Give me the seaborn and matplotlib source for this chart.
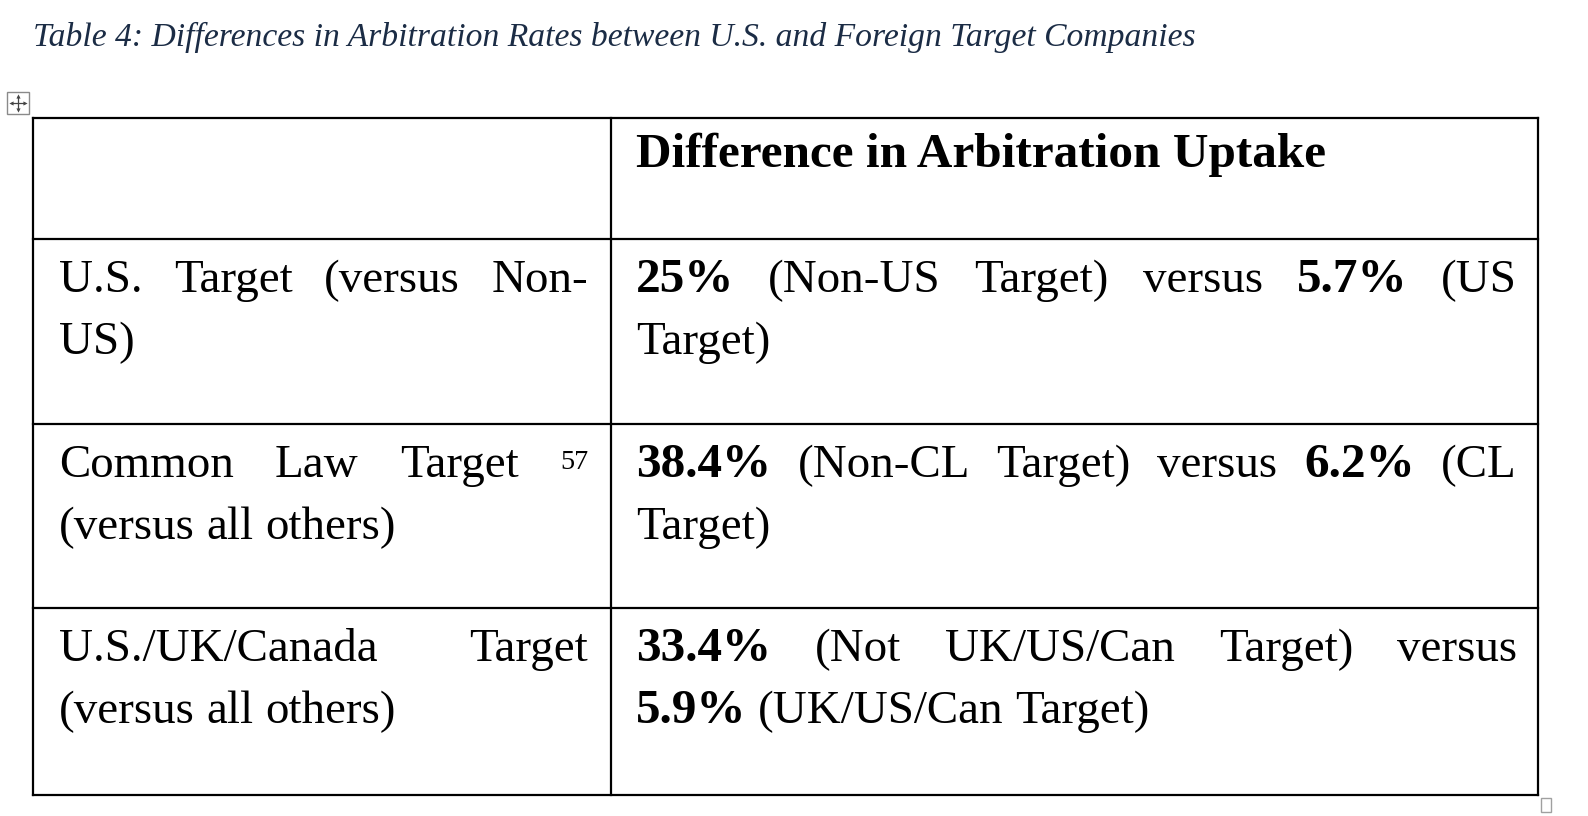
import matplotlib
matplotlib.use("Agg")
import matplotlib.pyplot as plt
import seaborn as sns

sns.set_theme(style="white")
plt.rcParams['font.family'] = ['Liberation Serif', 'DejaVu Serif']
plt.rcParams['text.color'] = 'black'

title = "Table 4: Differences in Arbitration Rates between U.S. and Foreign Target Companies"
header = "Difference in Arbitration Uptake"

# each cell: list of lines, each line a list of (word, bold) pairs; '^' marks a footnote
row_labels = [
    [[("U.S.", 0), ("Target", 0), ("(versus", 0), ("Non-", 0)], [("US)", 0)]],
    [[("Common", 0), ("Law", 0), ("Target", 0), ("^57", 0)], [("(versus", 0), ("all", 0), ("others)", 0)]],
    [[("U.S./UK/Canada", 0), ("Target", 0)], [("(versus", 0), ("all", 0), ("others)", 0)]],
]
row_values = [
    [[("25%", 1), ("(Non-US", 0), ("Target)", 0), ("versus", 0), ("5.7%", 1), ("(US", 0)], [("Target)", 0)]],
    [[("38.4%", 1), ("(Non-CL", 0), ("Target)", 0), ("versus", 0), ("6.2%", 1), ("(CL", 0)], [("Target)", 0)]],
    [[("33.4%", 1), ("(Not", 0), ("UK/US/Can", 0), ("Target)", 0), ("versus", 0)],
     [("5.9%", 1), ("(UK/US/Can", 0), ("Target)", 0)]],
]

# layout in pixels
W, H = 1588, 816
col_x = [33, 611, 1538]
row_y = [118, 239, 424, 608, 795]
pad_l, pad_r = 25, 21
fs = 33.8
fs_bold = 35.5
line_gap = 62
first_base = 53

fig = plt.figure(figsize=(W / 100, H / 100), dpi=100)
ax = fig.add_axes([0, 0, 1, 1])
ax.set_xlim(0, W)
ax.set_ylim(H, 0)
ax.axis("off")
renderer = fig.canvas.get_renderer()

ax.text(33, 37, title, fontsize=24.2, style="italic", color="#1b2c45", va="center", ha="left")

# table grid
for x in col_x:
    ax.plot([x, x], [row_y[0], row_y[-1]], color="black", lw=1.6, solid_capstyle="projecting")
for y in row_y:
    ax.plot([col_x[0], col_x[-1]], [y, y], color="black", lw=1.6, solid_capstyle="projecting")

# word-processor handles
ax.add_patch(plt.Rectangle((7, 92), 22, 22, fill=False, ec="#8a8a8a", lw=1))
cx, cy = 18, 103
ax.plot([cx - 7, cx + 7], [cy, cy], color="#444444", lw=0.9)
ax.plot([cx, cx], [cy - 7, cy + 7], color="#444444", lw=0.9)
for mx, my, m in [(cx - 7, cy, "<"), (cx + 7, cy, ">"), (cx, cy - 7, "^"), (cx, cy + 7, "v")]:
    ax.plot(mx, my, marker=m, ms=3, color="#444444", mew=0)
ax.add_patch(plt.Rectangle((1541, 798), 10, 14, fill=False, ec="#a0a0a0", lw=1))


def make_word(word, bold, x, y):
    if word.startswith("^"):
        t = ax.text(x, y - 8, word[1:], fontsize=fs * 0.6, va="baseline", ha="left")
    else:
        t = ax.text(x, y, word, fontsize=fs_bold if bold else fs, va="baseline", ha="left",
                    fontweight="bold" if bold else "normal")
    return t


def space_width():
    a = make_word("a a", 0, 0, -100)
    b = make_word("aa", 0, 0, -100)
    w = a.get_window_extent(renderer).width - b.get_window_extent(renderer).width
    a.remove()
    b.remove()
    return w


def draw_line(words, x0, x1, y, justify):
    arts = [make_word(w, b, x0, y) for w, b in words]
    widths = [a.get_window_extent(renderer).width for a in arts]
    if justify and len(words) > 1:
        gap = (x1 - x0 - sum(widths)) / (len(words) - 1)
    else:
        gap = space_width()
    x = x0
    for a, w in zip(arts, widths):
        a.set_x(x)
        x += w + gap


def draw_cell(lines, x0, x1, top):
    for i, words in enumerate(lines):
        justify = i < len(lines) - 1
        draw_line(words, x0, x1, top + first_base + i * line_gap, justify)


ax.text(col_x[1] + pad_l, row_y[0] + 49, header, fontsize=fs_bold, fontweight="bold",
        va="baseline", ha="left")

for r in range(len(row_labels)):
    draw_cell(row_labels[r], col_x[0] + pad_l + 1, col_x[1] - pad_r - 2, row_y[r + 1])
    draw_cell(row_values[r], col_x[1] + pad_l, col_x[2] - pad_r, row_y[r + 1])

fig.savefig("out.png", dpi=100, facecolor="white")
